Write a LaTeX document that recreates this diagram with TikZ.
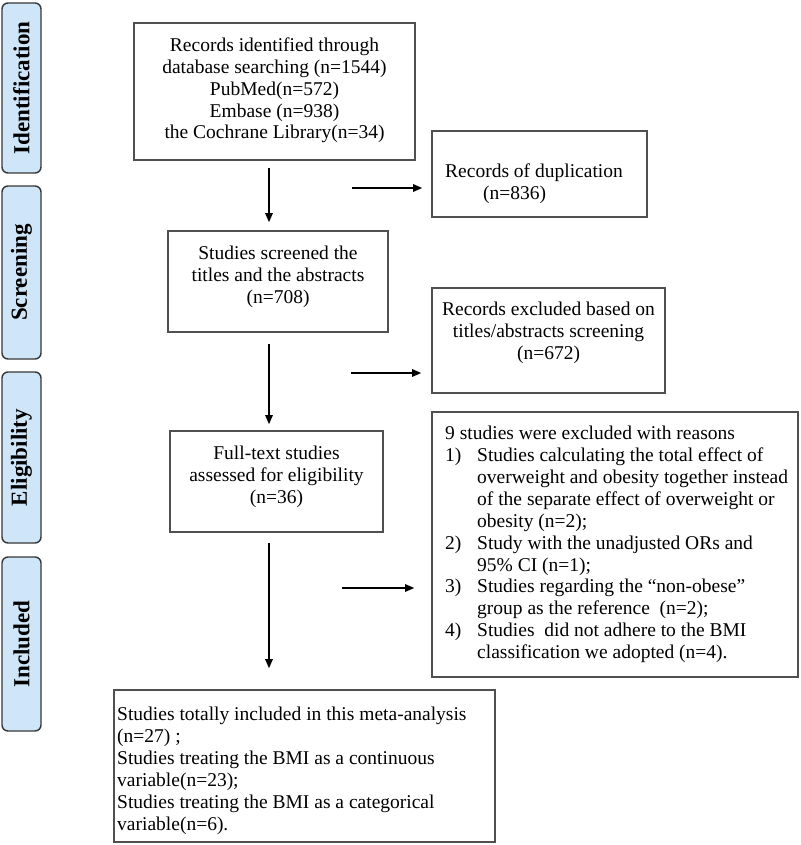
\documentclass[tikz,border=0pt]{standalone}
\usepackage{fontspec}
\setmainfont{Liberation Serif}
\usetikzlibrary{arrows.meta}
\definecolor{sidefill}{RGB}{207,230,248}
\definecolor{sideline}{RGB}{55,55,55}
\definecolor{boxline}{RGB}{80,80,80}
\begin{document}
\begin{tikzpicture}[x=1pt,y=-1pt,
  box/.style={draw=boxline, line width=1.6pt, inner sep=0pt, fill=white},
  side/.style={draw=sideline, line width=1.4pt, fill=sidefill, rounded corners=6pt,
    inner sep=0pt, rotate=90, font=\fontsize{23}{26}\selectfont\bfseries},
  txt/.style={inner sep=0pt, font=\fontsize{19.5}{21.8}\selectfont, align=center},
  ltxt/.style={inner sep=0pt, font=\fontsize{19.5}{21.9}\selectfont, align=left, anchor=west},
  arr/.style={line width=1.3pt, -{Triangle[length=9pt,width=7.5pt]}}]
\useasboundingbox (0,0) rectangle (800,845);
% side labels
\node[side, minimum width=170pt, minimum height=39pt] (s1) at (21.5,88) {Identification};
\node[side, minimum width=173pt, minimum height=39pt] (s2) at (21.5,272.5) {Screening};
\node[side, minimum width=171pt, minimum height=39pt] (s3) at (21.5,457.5) {Eligibility};
\node[side, minimum width=174pt, minimum height=39pt] (s4) at (21.5,644) {Included};
% boxes
\node[box, minimum width=281pt, minimum height=137pt] (b1) at (274.5,91.5) {};
\node[txt] (b1t) at (274.5,90.5) {Records identified through\\database searching (n=1544)\\PubMed(n=572)\\Embase (n=938)\\the Cochrane Library(n=34)};
\node[box, minimum width=220pt, minimum height=101pt] (b2) at (278,281.5) {};
\node[txt] (b2t) at (278,277) {Studies screened the\\titles and the abstracts\\(n=708)};
\node[box, minimum width=213pt, minimum height=101pt] (b3) at (276.5,481.5) {};
\node[txt] (b3t) at (276.5,477) {Full-text studies\\assessed for eligibility\\(n=36)};
\node[box, minimum width=381pt, minimum height=152pt] (b4) at (304.5,766) {};
\node[ltxt] (b4t) at (117,771) {Studies totally included in this meta-analysis\\(n=27) ;\\Studies treating the BMI as a continuous\\variable(n=23);\\Studies treating the BMI as a categorical\\variable(n=6).};
\node[box, minimum width=215pt, minimum height=86pt] (d1) at (539.5,174) {};
\node[ltxt] (d1t) at (445,184) {Records of duplication\\\hspace*{38pt}(n=836)};
\node[box, minimum width=233pt, minimum height=105pt] (d2) at (548.5,340.5) {};
\node[txt] (d2t) at (548.5,333) {Records excluded based on\\titles/abstracts screening\\(n=672)};
\node[box, minimum width=366pt, minimum height=265pt] (d3) at (615,544.5) {};
\node[ltxt] (d3t) at (445,544.5) {9 studies were excluded with reasons\\
\makebox[32pt][l]{1)}Studies calculating the total effect of\\
\hspace*{32pt}overweight and obesity together instead\\
\hspace*{32pt}of the separate effect of overweight or\\
\hspace*{32pt}obesity (n=2);\\
\makebox[32pt][l]{2)}Study with the unadjusted ORs and\\
\hspace*{32pt}95\% CI (n=1);\\
\makebox[32pt][l]{3)}Studies regarding the “non-obese”\\
\hspace*{32pt}group as the reference\ \ (n=2);\\
\makebox[32pt][l]{4)}Studies\ \ did not adhere to the BMI\\
\hspace*{32pt}classification we adopted (n=4).};
% arrows
\coordinate (vx) at (269,0);
\draw[arr, shorten <=7pt, shorten >=8pt] (b1.south -| vx) -- (b2.north -| vx);
\draw[arr, shorten <=11pt, shorten >=6pt] (b2.south -| vx) -- (b3.north -| vx);
\draw[arr, shorten <=10pt, shorten >=21pt] (b3.south -| vx) -- (b4.north -| vx);
\coordinate (h1) at (352,188);
\coordinate (h2) at (351,373);
\coordinate (h3) at (342,588);
\draw[arr, shorten >=9pt] (h1) -- (d1.west |- h1);
\draw[arr, shorten >=10pt] (h2) -- (d2.west |- h2);
\draw[arr, shorten >=17pt] (h3) -- (d3.west |- h3);
\end{tikzpicture}
\end{document}
